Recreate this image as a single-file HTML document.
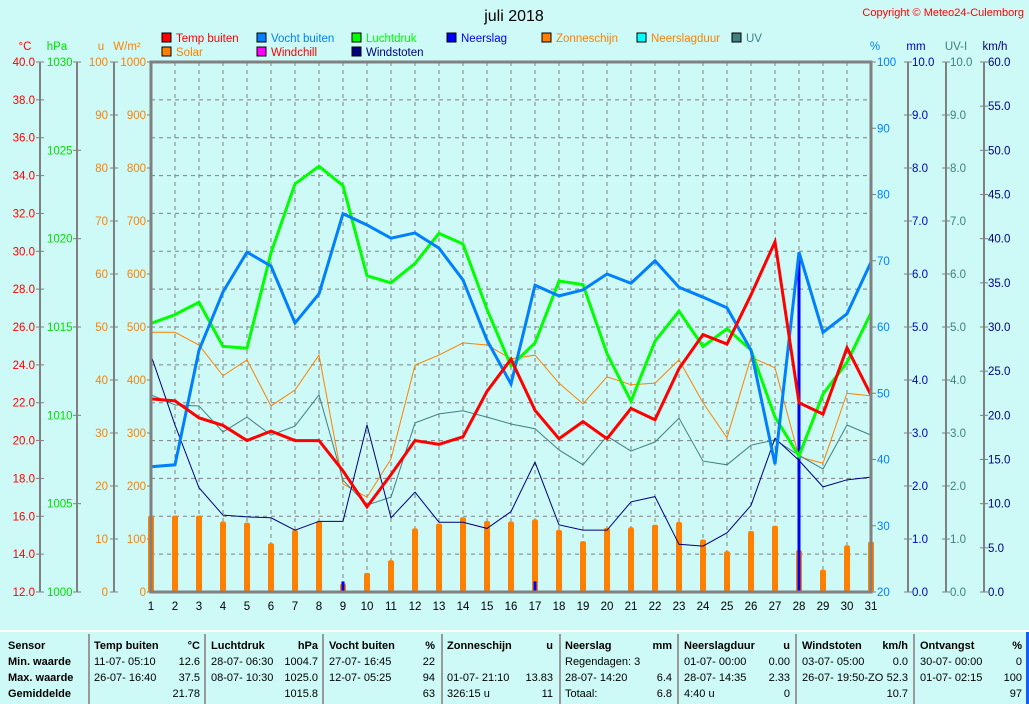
<!DOCTYPE html>
<html><head><meta charset="utf-8">
<style>
body{margin:0;background:#cdfaf6;font-family:"Liberation Sans",sans-serif;}
#wrap{position:relative;width:1029px;height:704px;overflow:hidden;background:#cdfaf6;}
svg text{font-family:"Liberation Sans",sans-serif;}
#foot{position:absolute;left:0;top:630px;width:1029px;height:74px;border-top:2px solid #fff;box-sizing:border-box;}
.col{position:absolute;top:6px;font-size:11px;line-height:16px;}
.col div{position:relative;height:16px;white-space:nowrap;}
.col .r{position:absolute;right:0;top:0;}
.b{font-weight:bold;}
.sep{position:absolute;top:2px;width:2px;height:72px;background:#999;}
</style></head><body>
<div id="wrap">
<svg id="chart" width="1029" height="630"></svg>
<div id="foot">
 <div class="col b" style="left:8px;width:80px"><div>Sensor</div><div>Min. waarde</div><div>Max. waarde</div><div>Gemiddelde</div></div>
 <div class="sep" style="left:88px"></div>
 <div class="col" style="left:94px;width:106px"><div class="b">Temp buiten<span class="r">°C</span></div><div>11-07- 05:10<span class="r">12.6</span></div><div>26-07- 16:40<span class="r">37.5</span></div><div><span class="r">21.78</span></div></div>
 <div class="sep" style="left:204px"></div>
 <div class="col" style="left:211px;width:107px"><div class="b">Luchtdruk<span class="r">hPa</span></div><div>28-07- 06:30<span class="r">1004.7</span></div><div>08-07- 10:30<span class="r">1025.0</span></div><div><span class="r">1015.8</span></div></div>
 <div class="sep" style="left:322px"></div>
 <div class="col" style="left:329px;width:106px"><div class="b">Vocht buiten<span class="r">%</span></div><div>27-07- 16:45<span class="r">22</span></div><div>12-07- 05:25<span class="r">94</span></div><div><span class="r">63</span></div></div>
 <div class="sep" style="left:441px"></div>
 <div class="col" style="left:447px;width:106px"><div class="b">Zonneschijn<span class="r">u</span></div><div></div><div>01-07- 21:10<span class="r">13.83</span></div><div>326:15 u<span class="r">11</span></div></div>
 <div class="sep" style="left:559px"></div>
 <div class="col" style="left:565px;width:107px"><div class="b">Neerslag<span class="r">mm</span></div><div>Regendagen: 3</div><div>28-07- 14:20<span class="r">6.4</span></div><div>Totaal:<span class="r">6.8</span></div></div>
 <div class="sep" style="left:677px"></div>
 <div class="col" style="left:684px;width:106px"><div class="b">Neerslagduur<span class="r">u</span></div><div>01-07- 00:00<span class="r">0.00</span></div><div>28-07- 14:35<span class="r">2.33</span></div><div>4:40 u<span class="r">0</span></div></div>
 <div class="sep" style="left:795px"></div>
 <div class="col" style="left:802px;width:106px"><div class="b">Windstoten<span class="r">km/h</span></div><div>03-07- 05:00<span class="r">0.0</span></div><div>26-07- 19:50-ZO<span class="r">52.3</span></div><div><span class="r">10.7</span></div></div>
 <div class="sep" style="left:913px"></div>
 <div class="col" style="left:920px;width:102px"><div class="b">Ontvangst<span class="r">%</span></div><div>30-07- 00:00<span class="r">0</span></div><div>01-07- 02:15<span class="r">100</span></div><div><span class="r">97</span></div></div>
 <div style="position:absolute;left:1026px;top:0;width:3px;height:74px;background:#1060ff"></div>
</div>
</div>
<script>
const days=[1,2,3,4,5,6,7,8,9,10,11,12,13,14,15,16,17,18,19,20,21,22,23,24,25,26,27,28,29,30,31];
const tempValues=[22.2,22.1,21.2,20.8,20.0,20.5,20.0,20.0,18.4,16.5,18.2,20.0,19.8,20.2,22.6,24.3,21.6,20.1,21.0,20.1,21.7,21.1,23.8,25.6,25.1,27.7,30.5,22.0,21.4,24.9,22.4];
const humidityValues=[38.9,39.2,56.5,65.3,71.3,69.2,60.6,65.0,77.1,75.4,73.4,74.2,71.9,67.1,58.0,51.4,66.3,64.7,65.6,68.0,66.6,70.0,66.0,64.5,62.9,56.5,39.3,71.3,59.2,62.0,69.8];
const pressureValues=[1015.2,1015.7,1016.4,1013.9,1013.8,1019.2,1023.1,1024.1,1023.0,1017.9,1017.5,1018.6,1020.3,1019.7,1016.0,1012.8,1014.1,1017.6,1017.4,1013.5,1010.8,1014.2,1015.9,1013.9,1014.9,1013.7,1009.9,1007.7,1011.2,1013.0,1015.8];
const solarValues=[490,490,466,408,438,351,381,447,204,179,251,428,447,470,466,440,447,394,355,406,391,394,438,357,291,443,423,255,243,375,370];
const uvValues=[3.72,3.53,3.51,3.02,3.30,2.96,3.13,3.72,2.11,1.64,1.79,3.19,3.36,3.42,3.30,3.17,3.08,2.68,2.40,2.94,2.66,2.83,3.28,2.47,2.40,2.77,2.87,2.58,2.32,3.15,2.96];
const gustValues=[26.8,18.9,11.8,8.7,8.5,8.4,7.0,8.0,8.0,18.9,8.4,11.3,7.9,7.9,7.2,9.1,14.7,7.6,7.0,7.0,10.2,10.8,5.4,5.2,6.7,9.8,17.4,14.9,11.9,12.7,13.0];
const sunValues=[14.4,14.4,14.4,13.3,13.1,9.2,11.7,13.4,1.6,3.6,6.0,12.0,12.9,14.1,13.4,13.3,13.7,11.7,9.6,12.1,12.2,12.7,13.2,9.9,7.7,11.5,12.5,7.9,4.2,8.8,9.5];
const rainValues=[0,0,0,0,0,0,0,0,0.2,0,0,0,0,0,0,0,0.2,0,0,0,0,0,0,0,0,0,0,6.4,0,0,0];
const tempTicks=[12,14,16,18,20,22,24,26,28,30,32,34,36,38,40];
const pressureTicks=[1000,1005,1010,1015,1020,1025,1030];
const hourTicks=[0,10,20,30,40,50,60,70,80,90,100];
const solarTicks=[0,100,200,300,400,500,600,700,800,900,1000];
const humTicks=[20,30,40,50,60,70,80,90,100];
const mmTicks=[0,1,2,3,4,5,6,7,8,9,10];
const kmhTicks=[0,5,10,15,20,25,30,35,40,45,50,55,60];

const NS="http://www.w3.org/2000/svg";
const svg=document.getElementById('chart');
const X0=151,X1=871,Y0=62,Y1=592;
const FS=11.5;
const xs=d=>X0+(d-1)*(X1-X0)/30;
const lin=(lo,hi)=>v=>Y1-(v-lo)/(hi-lo)*(Y1-Y0);
const yT=lin(12,40),yP=lin(1000,1030),yU=lin(0,100),yS=lin(0,1000),yH=lin(20,100),yMM=lin(0,10),yK=lin(0,60);
function el(tag,attrs,parent){const e=document.createElementNS(NS,tag);for(const k in attrs)e.setAttribute(k,attrs[k]);(parent||svg).appendChild(e);return e;}
function txt(x,y,s,fill,anchor,size){const t=el('text',{x:x,y:y,fill:fill,'font-size':size||FS,'text-anchor':anchor||'start'});t.textContent=s;return t;}

let t=txt(514,21,'juli 2018','#000','middle',16);

t=txt(1024,16,'Copyright © Meteo24-Culemborg','#ff0000','end',11);


const legend=[['Temp buiten','#ff0000','#ff0000',162,38],['Vocht buiten','#0080ff','#0080ff',257,38],['Luchtdruk','#00ff00','#00ff00',352,38],['Neerslag','#0000ff','#0000ff',447,38],['Zonneschijn','#ff8000','#ff8000',542,38],['Neerslagduur','#00ffff','#ff8000',637,38],['UV','#408080','#408080',732,38],
['Solar','#ff8000','#ff8000',162,52],['Windchill','#ff00ff','#ff0000',257,52],['Windstoten','#000080','#000080',352,52]];
legend.forEach(l=>{
 const g=el('g',{});
 
 
 el('rect',{x:l[3],y:l[4]-5,width:9,height:9,fill:l[1],stroke:'#000','stroke-width':1},g);
 const tt=el('text',{x:l[3]+14,y:l[4]+4,fill:l[2],'font-size':FS},g);tt.textContent=l[0];
});

const grid=el('g',{stroke:'#808080','stroke-dasharray':'4,4','stroke-width':1});

tempTicks.forEach(v=>{if(v>12&&v<40)el('line',{x1:X0,x2:X1,y1:yT(v),y2:yT(v)},grid);});
days.forEach(d=>{if(d>1&&d<31)el('line',{x1:xs(d),x2:xs(d),y1:Y0,y2:Y1},grid);});

function axis(name,lineX,ticks,yf,fmt,color,labelX,anchor,tickFrom,tickTo){
 const g=el('g',{});
 
 if(lineX!==null)el('line',{x1:lineX,x2:lineX,y1:Y0,y2:Y1,stroke:'#808080','stroke-width':2},g);
 ticks.forEach(v=>{const y=yf(v);
  el('line',{x1:tickFrom,x2:tickTo,y1:y,y2:y,stroke:'#808080','stroke-width':1},g);
  const tt=el('text',{x:labelX,y:y+4,fill:color,'font-size':FS,'text-anchor':anchor},g);tt.textContent=fmt(v);});
}
axis('temp-axis',40,tempTicks,yT,v=>v.toFixed(1),'#ff0000',35,'end',36,44);
axis('pressure-axis',77,pressureTicks,yP,v=>String(v),'#00e000',47,'start',73,81);
axis('hours-axis',114,hourTicks,yU,v=>String(v),'#ff8000',108,'end',110,118);
axis('solar-axis',null,solarTicks,yS,v=>String(v),'#ff8000',146,'end',147,151);
axis('humidity-axis',null,humTicks,yH,v=>String(v),'#0080ff',877,'start',871,876);
axis('rain-mm-axis',908,mmTicks,yMM,v=>v.toFixed(1),'#0000c0',912,'start',904,912);
axis('uv-axis',946,mmTicks,yMM,v=>v.toFixed(1),'#408080',950,'start',942,950);
axis('gust-axis',984,kmhTicks,yK,v=>v.toFixed(1),'#000080',988,'start',980,988);
[['°C',25,'#ff0000'],['hPa',57,'#00e000'],['u',101,'#ff8000'],['W/m²',127,'#ff8000'],['%',875,'#0080ff'],['mm',916,'#0000c0'],['UV-I',956,'#408080'],['km/h',995,'#000080']].forEach(u=>{
 const tt=txt(u[1],50,u[0],u[2],'middle',FS);
 
});

days.forEach(d=>{const tt=txt(xs(d),610,String(d),'#000','middle',FS);
 });

sunValues.forEach((v,i)=>{const x=xs(days[i]);const y=yU(v);
 const b=el('rect',{x:x-3,y:y,width:6,height:Y1-y,rx:2,fill:'#ff8000'});
 });
rainValues.forEach((v,i)=>{if(v<=0)return;const x=xs(days[i]);const y=yMM(v);
 const b=el('rect',{x:x-1.5,y:y,width:3,height:Y1-y,fill:'#0000ff'});
 });

function series(name,vals,yf,color,w){
 const pts=vals.map((v,i)=>xs(days[i])+','+yf(v)).join(' ');
 const p=el('polyline',{points:pts,fill:'none',stroke:color,'stroke-width':w,'stroke-linejoin':'miter'});
 
}
series('solar-line',solarValues,yS,'#ff8000',1);
series('uv-line',uvValues,yMM,'#408080',1);
series('gust-line',gustValues,yK,'#000080',1);
series('pressure-line',pressureValues,yP,'#00ff00',3);
series('humidity-line',humidityValues,yH,'#0080ff',3);
series('temp-line',tempValues,yT,'#ff0000',3);

const fr=el('path',{d:`M${X0},${Y1} L${X0},${Y0} L${X1},${Y0} L${X1},${Y1} Z`,fill:'none',stroke:'#808080','stroke-width':3});

</script>
</body></html>
